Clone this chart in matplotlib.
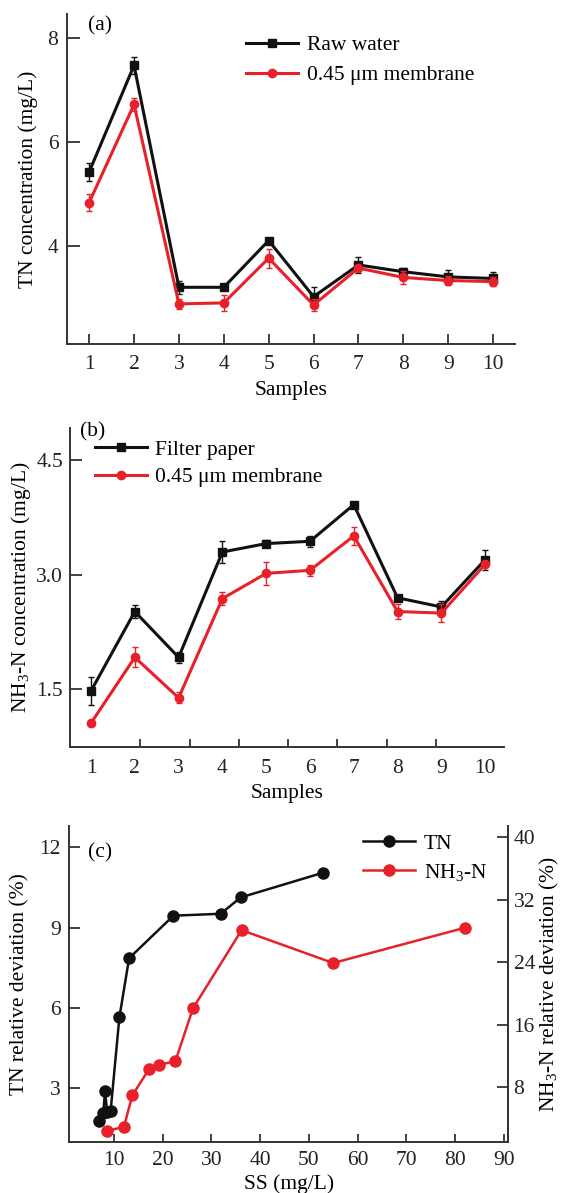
import matplotlib
matplotlib.use("Agg")
import matplotlib.pyplot as plt
import numpy as np

plt.rcParams['font.family'] = ['Liberation Serif', 'DejaVu Serif']
plt.rcParams['mathtext.fontset'] = 'custom'
plt.rcParams['mathtext.rm'] = 'Liberation Serif'
plt.rcParams['mathtext.it'] = 'Liberation Serif:italic'
plt.rcParams['axes.linewidth'] = 1.4
plt.rcParams['axes.edgecolor'] = '#333333'

BLACK = '#111111'
RED = '#e8202a'

# (a) TN concentration
samples = np.arange(1, 11)
tn_raw = [5.42, 7.47, 3.20, 3.20, 4.10, 3.02, 3.63, 3.50, 3.40, 3.37]
tn_raw_err = [0.18, 0.16, 0.12, 0.06, 0.05, 0.18, 0.16, 0.08, 0.14, 0.12]
tn_mem = [4.83, 6.72, 2.88, 2.90, 3.76, 2.86, 3.57, 3.39, 3.33, 3.31]
tn_mem_err = [0.17, 0.12, 0.10, 0.15, 0.18, 0.12, 0.06, 0.12, 0.08, 0.08]

# (b) NH3-N concentration
nh3_filter = [1.48, 2.52, 1.92, 3.30, 3.41, 3.44, 3.92, 2.70, 2.58, 3.20]
nh3_filter_err = [0.18, 0.09, 0.07, 0.15, 0.05, 0.07, 0.03, 0.04, 0.08, 0.13]
nh3_mem = [1.06, 1.92, 1.39, 2.69, 3.02, 3.06, 3.51, 2.52, 2.50, 3.14]
nh3_mem_err = [0.03, 0.13, 0.07, 0.08, 0.15, 0.07, 0.12, 0.10, 0.12, 0.03]

# (c) relative deviation vs SS
ss_tn = [6.9, 7.8, 8.15, 8.6, 9.3, 11.1, 13.1, 22.2, 31.9, 36.0, 53.0]
tn_dev = [1.76, 2.08, 2.89, 2.11, 2.14, 5.65, 7.86, 9.45, 9.52, 10.13, 11.06]
ss_nh3 = [8.5, 12.05, 13.76, 17.25, 19.2, 22.6, 26.2, 36.2, 55.0, 82.0]
nh3_dev = [2.4, 3.0, 7.0, 10.4, 10.9, 11.35, 18.1, 28.1, 23.9, 28.4]

FS = 15.5


def style(ax, right=False):
    ax.spines['top'].set_visible(False)
    if not right:
        ax.spines['right'].set_visible(False)
    ax.tick_params(direction='in', labelsize=FS, colors='#333333',
                   labelcolor='#222222', width=1.3)


def series(ax, x, y, err, color, marker, label):
    # error bars kept out of the legend
    ax.errorbar(x, y, yerr=err, fmt='none', ecolor=color, elinewidth=1.0,
                capsize=2.5, capthick=1.0)
    line, = ax.plot(x, y, color=color, lw=2.2, marker=marker, ms=6,
                    label=label)
    return line


fig = plt.figure(figsize=(5.64, 11.93), dpi=100)

# ---- (a)
axa = fig.add_axes([0.1183, 0.7117, 0.7957, 0.2766])
style(axa)
series(axa, samples, tn_raw, tn_raw_err, BLACK, 's', 'Raw water')
series(axa, samples, tn_mem, tn_mem_err, RED, 'o', '0.45 μm membrane')
axa.set_xlim(0.5, 10.5)
axa.set_ylim(2.11, 8.46)
axa.set_xticks(samples)
axa.set_yticks([4, 6, 8])
axa.tick_params(axis='y', length=9, pad=6)
axa.tick_params(axis='x', length=7.5, pad=8)
axa.set_xlabel('Samples', fontsize=FS, labelpad=5)
axa.set_ylabel('TN concentration (mg/L)', fontsize=FS, labelpad=7)
axa.text(0.048, 0.965, '(a)', transform=axa.transAxes, fontsize=FS,
         va='center', ha='left')
axa.legend(loc='upper left', bbox_to_anchor=(0.40, 0.935), frameon=False,
           fontsize=FS, handlelength=2.4, handletextpad=0.4,
           labelspacing=0.45, borderpad=0, borderaxespad=0)

# ---- (b)
axb = fig.add_axes([0.1241, 0.3741, 0.7695, 0.2669])
style(axb)
series(axb, samples, nh3_filter, nh3_filter_err, BLACK, 's', 'Filter paper')
series(axb, samples, nh3_mem, nh3_mem_err, RED, 'o', '0.45 μm membrane')
axb.set_xlim(0.52, 10.43)
axb.set_ylim(0.75, 4.92)
axb.set_xticks(samples)
axb.set_xticks(np.linspace(1, 10, 9), minor=True)
axb.tick_params(axis='x', which='major', length=0, pad=9)
axb.tick_params(axis='x', which='minor', direction='in', length=6,
                width=1.3, colors='#333333')
axb.set_yticks([1.5, 3.0, 4.5])
axb.set_yticklabels(['1.5', '3.0', '4.5'])
axb.tick_params(axis='y', length=8.5, pad=5)
axb.set_xlabel('Samples', fontsize=FS, labelpad=4)
axb.set_ylabel(r'NH$_3$-N concentration (mg/L)', fontsize=FS, labelpad=2)
axb.text(0.022, 0.99, '(b)', transform=axb.transAxes, fontsize=FS,
         va='center', ha='left')
axb.legend(loc='upper left', bbox_to_anchor=(0.058, 0.965), frameon=False,
           fontsize=FS, handlelength=2.4, handletextpad=0.4,
           labelspacing=0.35, borderpad=0, borderaxespad=0)

# ---- (c)
axc = fig.add_axes([0.1229, 0.0425, 0.7778, 0.2651])
style(axc, right=True)
axc2 = axc.twinx()
style(axc2, right=True)
axc2.spines['left'].set_visible(False)
axc2.spines['bottom'].set_visible(False)
l1, = axc.plot(ss_tn, tn_dev, color=BLACK, lw=1.8, marker='o', ms=8,
               label='TN')
l2, = axc2.plot(ss_nh3, nh3_dev, color=RED, lw=1.8, marker='o', ms=8,
                label=r'NH$_3$-N')
axc.set_xlim(0.82, 90.9)
axc.set_ylim(0.98, 12.8)
axc2.set_ylim(1.0, 41.4)
axc.set_xticks(np.arange(10, 91, 10))
axc.set_yticks([3, 6, 9, 12])
axc2.set_yticks([8, 16, 24, 32, 40])
axc.tick_params(axis='y', length=8, pad=6)
axc.tick_params(axis='x', length=6, pad=6)
axc2.tick_params(axis='y', length=8, pad=4)
axc.set_xlabel('SS (mg/L)', fontsize=FS, labelpad=3)
axc.set_ylabel('TN relative deviation (%)', fontsize=FS, labelpad=7)
axc2.set_ylabel(r'NH$_3$-N relative deviation (%)', fontsize=FS, labelpad=2)
axc.text(0.042, 0.915, '(c)', transform=axc.transAxes, fontsize=FS,
         va='center', ha='left')
axc.legend(handles=[l1, l2], loc='upper left', bbox_to_anchor=(0.67, 0.975),
           frameon=False, fontsize=FS, handlelength=2.4, handletextpad=0.4,
           labelspacing=0.35, borderpad=0, borderaxespad=0)

fig.savefig('out.png', dpi=100)
